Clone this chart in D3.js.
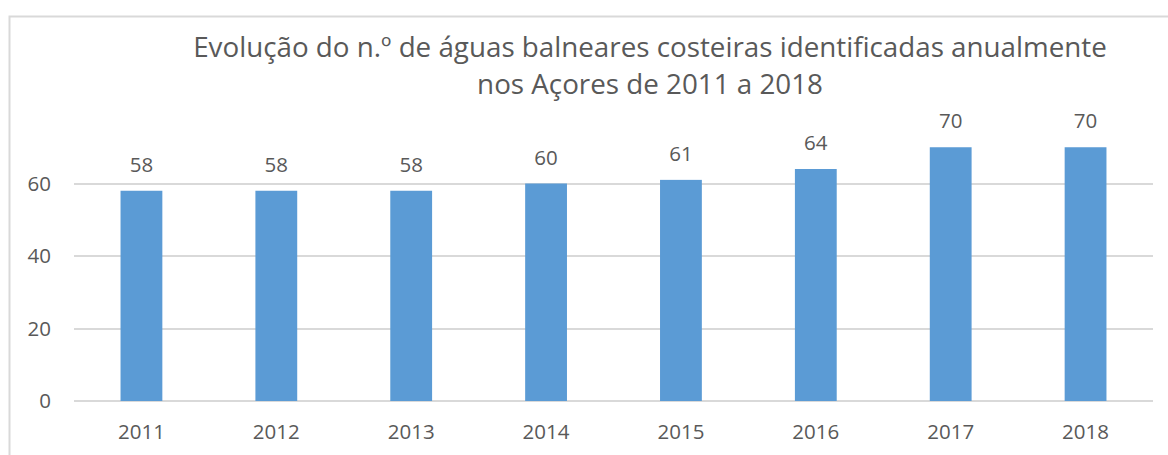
<!DOCTYPE html>
<html>
<head>
<meta charset="utf-8">
<script src="https://cdn.jsdelivr.net/npm/d3@7"></script>
<style>
  html, body { margin: 0; padding: 0; background: #fff; }
  svg { display: block; }
  text { font-family: "Open Sans", "DejaVu Sans", sans-serif; fill: #595959; }
</style>
</head>
<body>
<svg id="chart"></svg>
<script>
// Data
const years = ['2011', '2012', '2013', '2014', '2015', '2016', '2017', '2018'];
const counts = [58, 58, 58, 60, 61, 64, 70, 70];
const yTicks = [0, 20, 40, 60];
const titleLines = [
  'Evolução do n.º de águas balneares costeiras identificadas anualmente',
  'nos Açores de 2011 a 2018'
];

const width = 1168;
const height = 455;
const barColor = '#5b9bd5';
const gridColor = '#d9d9d9';

const svg = d3.select('#chart')
  .attr('width', width)
  .attr('height', height);

// chart frame (only top and left edges visible in the crop)
svg.append('path')
  .attr('d', `M9.5,${height} V16.5 H${width}`)
  .attr('fill', 'none')
  .attr('stroke', gridColor)
  .attr('stroke-width', 2);

const plot = { left: 74, right: 1153, top: 111, bottom: 401 };

const x = d3.scaleBand()
  .domain(years)
  .range([plot.left, plot.right])
  .paddingInner(0.69)
  .paddingOuter(0.345);

const y = d3.scaleLinear()
  .domain([0, 80])
  .range([plot.bottom, plot.top]);

// gridlines
svg.append('g')
  .selectAll('line')
  .data(yTicks)
  .join('line')
  .attr('x1', plot.left)
  .attr('x2', plot.right)
  .attr('y1', d => Math.round(y(d)))
  .attr('y2', d => Math.round(y(d)))
  .attr('stroke', gridColor)
  .attr('stroke-width', 2);

// y tick labels
svg.append('g')
  .selectAll('text')
  .data(yTicks)
  .join('text')
  .attr('x', 51)
  .attr('y', d => y(d))
  .attr('dy', '0.35em')
  .attr('text-anchor', 'end')
  .attr('font-size', 20.5)
  .text(d => d);

// bars
svg.append('g')
  .selectAll('rect')
  .data(counts)
  .join('rect')
  .attr('x', (d, i) => x(years[i]))
  .attr('width', x.bandwidth())
  .attr('y', d => y(d))
  .attr('height', d => y(0) - y(d))
  .attr('fill', barColor);

// data labels
svg.append('g')
  .selectAll('text')
  .data(counts)
  .join('text')
  .attr('x', (d, i) => x(years[i]) + x.bandwidth() / 2)
  .attr('y', d => y(d) - 19)
  .attr('text-anchor', 'middle')
  .attr('font-size', 20.5)
  .text(d => d);

// x labels
svg.append('g')
  .selectAll('text')
  .data(years)
  .join('text')
  .attr('x', d => x(d) + x.bandwidth() / 2)
  .attr('y', 439)
  .attr('text-anchor', 'middle')
  .attr('font-size', 20.5)
  .text(d => d);

// title, sized to the width it takes in the reference
const title = svg.append('text')
  .attr('x', 650)
  .attr('text-anchor', 'middle')
  .attr('font-size', 28);
title.selectAll('tspan')
  .data(titleLines)
  .join('tspan')
  .attr('x', 650)
  .attr('y', (d, i) => 57 + i * 37)
  .text(d => d);
const firstLine = title.select('tspan').node().getComputedTextLength();
title.attr('font-size', 28 * 914 / firstLine);
</script>
</body>
</html>
